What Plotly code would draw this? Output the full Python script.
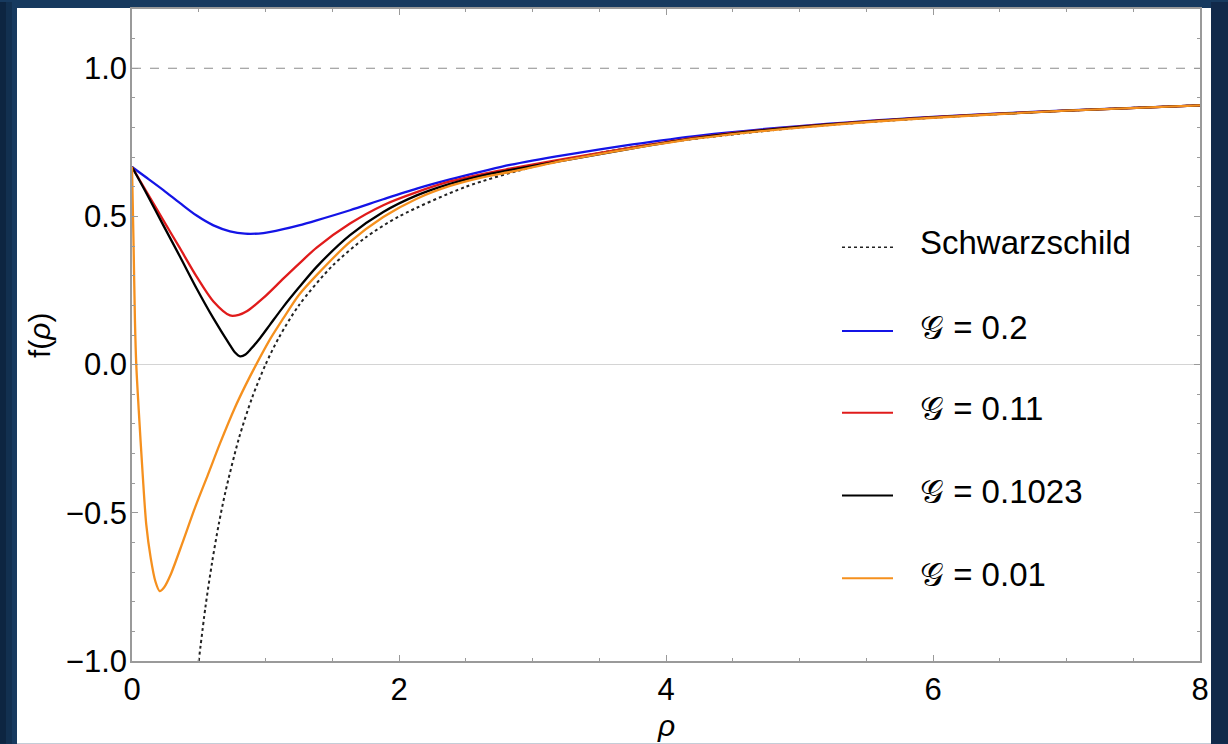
import plotly.graph_objects as go

# ---------------- data ----------------
schw_rho = [0.5, 0.55, 0.6, 0.65, 0.7, 0.8, 0.9, 1.0, 1.1, 1.25, 1.5, 1.75, 2.0, 2.5, 3.0, 3.5, 4.0, 5.0, 6.0, 7.0, 8.0]
schw_f = [-1.0, -0.818, -0.667, -0.538, -0.429, -0.25, -0.111, 0.0, 0.091, 0.2, 0.333, 0.429, 0.5, 0.6, 0.667, 0.714, 0.75, 0.8, 0.833, 0.857, 0.875]

g02_rho = [0, 0.1, 0.235, 0.36, 0.484, 0.61, 0.734, 0.846, 0.984, 1.133, 1.25, 1.383, 1.633, 1.882, 2.133, 2.382, 2.632, 2.83, 3.25, 3.75, 4.25, 5.0, 6.0, 7.0, 8.0]
g02_f = [0.667, 0.634, 0.589, 0.545, 0.503, 0.47, 0.45, 0.442, 0.444, 0.457, 0.47, 0.487, 0.521, 0.558, 0.594, 0.625, 0.653, 0.674, 0.708, 0.743, 0.773, 0.805, 0.836, 0.858, 0.875]

g011_rho = [0, 0.1, 0.235, 0.36, 0.484, 0.61, 0.734, 0.80, 0.86, 0.984, 1.133, 1.25, 1.383, 1.633, 1.882, 2.133, 2.382, 2.632, 2.83, 3.25, 3.75, 4.25, 5.0, 6.0, 7.0, 8.0]
g011_f = [0.667, 0.59, 0.487, 0.392, 0.297, 0.213, 0.166, 0.168, 0.18, 0.225, 0.29, 0.34, 0.395, 0.476, 0.538, 0.582, 0.618, 0.644, 0.661, 0.695, 0.733, 0.768, 0.803, 0.835, 0.857, 0.875]

g01023_rho = [0, 0.1, 0.235, 0.36, 0.484, 0.61, 0.734, 0.77, 0.81, 0.85, 0.895, 0.96, 1.034, 1.133, 1.25, 1.383, 1.633, 1.882, 2.133, 2.382, 2.632, 2.83, 3.25, 3.75, 4.25, 5.0, 6.0, 7.0, 8.0]
g01023_f = [0.667, 0.585, 0.47, 0.364, 0.257, 0.156, 0.066, 0.042, 0.028, 0.034, 0.055, 0.09, 0.135, 0.195, 0.26, 0.33, 0.437, 0.515, 0.571, 0.61, 0.639, 0.656, 0.69, 0.73, 0.766, 0.802, 0.834, 0.857, 0.875]

g001_rho = [0, 0.012, 0.022, 0.032, 0.05, 0.08, 0.107, 0.14, 0.175, 0.207, 0.24, 0.29, 0.382, 0.47, 0.569, 0.66, 0.769, 0.85, 0.93, 1.04, 1.133, 1.25, 1.383, 1.633, 1.882, 2.133, 2.382, 2.632, 2.83, 3.25, 3.75, 4.25, 5.0, 6.0, 7.0, 8.0]
g001_f = [0.667, 0.4, 0.15, 0.0, -0.15, -0.37, -0.54, -0.652, -0.731, -0.764, -0.752, -0.708, -0.596, -0.485, -0.371, -0.265, -0.147, -0.07, 0.0, 0.09, 0.156, 0.235, 0.302, 0.414, 0.498, 0.56, 0.603, 0.633, 0.65, 0.69, 0.73, 0.764, 0.8, 0.833, 0.857, 0.875]

legend_labels = ["Schwarzschild", "𝒢 = 0.2", "𝒢 = 0.11", "𝒢 = 0.1023", "𝒢 = 0.01"]
asymptote = 1.0
x_ticks = [0, 2, 4, 6, 8]
y_ticks = [-1.0, -0.5, 0.0, 0.5, 1.0]

# ---------------- styles ----------------
FONT = "Liberation Sans, Arial, sans-serif"
C_BLUE = "#1414e6"
C_RED = "#e01b1b"
C_BLACK = "#000000"
C_ORANGE = "#f5901e"

fig = go.Figure()
fig.add_trace(go.Scatter(x=schw_rho, y=schw_f, mode="lines", name=legend_labels[0],
                         line=dict(color="#222222", width=2, dash="dot", shape="spline", smoothing=0.8)))
series = [(g02_rho, g02_f, C_BLUE, legend_labels[1]),
          (g011_rho, g011_f, C_RED, legend_labels[2]),
          (g01023_rho, g01023_f, C_BLACK, legend_labels[3]),
          (g001_rho, g001_f, C_ORANGE, legend_labels[4])]
for xs, ys, col, nm in series:
    fig.add_trace(go.Scatter(x=xs, y=ys, mode="lines", name=nm,
                             line=dict(color=col, width=2.3, shape="spline", smoothing=0.8)))

# plot area in pixels: x 132..1200, y 7..661
L, R, T, B = 132, 1200, 7, 661
W, H = R - L, B - T
def px(x):
    return (x - L) / W
def py(y):
    return (B - y) / H

shapes = []
# background bands and white panel
shapes.append(dict(type="rect", xref="paper", yref="paper", x0=px(0), x1=px(6), y0=py(744), y1=py(0),
                   fillcolor="#0d2541", line=dict(width=0), layer="below"))
shapes.append(dict(type="rect", xref="paper", yref="paper", x0=px(6), x1=px(12), y0=py(744), y1=py(0),
                   fillcolor="#123050", line=dict(width=0), layer="below"))
shapes.append(dict(type="rect", xref="paper", yref="paper", x0=px(1211), x1=px(1228), y0=py(744), y1=py(0),
                   fillcolor="#11294a", line=dict(width=0), layer="below"))
shapes.append(dict(type="rect", xref="paper", yref="paper", x0=px(17), x1=px(1211), y0=py(744), y1=py(6),
                   fillcolor="white", line=dict(width=0), layer="below"))
# asymptote line
shapes.append(dict(type="line", xref="paper", yref="y", x0=0, x1=1, y0=asymptote, y1=asymptote,
                   line=dict(color="#8c8c8c", width=1.2, dash="dash"), layer="below"))

annotations = []
leg_line_y = [246, 330, 412, 495, 578]
leg_text_y = [241, 326, 408, 491, 574]
leg_colors = ["#222222", C_BLUE, C_RED, C_BLACK, C_ORANGE]
for i, lab in enumerate(legend_labels):
    shapes.append(dict(type="line", xref="paper", yref="paper", x0=px(842), x1=px(893),
                       y0=py(leg_line_y[i]), y1=py(leg_line_y[i]),
                       line=dict(color=leg_colors[i], width=2 if i else 1.5, dash="dot" if i == 0 else "solid")))
    annotations.append(dict(xref="paper", yref="paper", x=px(918), y=py(leg_text_y[i]),
                            xanchor="left", yanchor="middle", text=lab, showarrow=False,
                            font=dict(family=FONT, size=33, color="black")))

annotations.append(dict(xref="paper", yref="paper", x=px(39), y=py(334), text="f(<i>ρ</i>)",
                        textangle=-90, showarrow=False, xanchor="center", yanchor="middle",
                        font=dict(family=FONT, size=30, color="black")))
annotations.append(dict(xref="paper", yref="paper", x=px(666), y=py(726), text="<i>ρ</i>",
                        showarrow=False, xanchor="center", yanchor="middle",
                        font=dict(family=FONT, size=30, color="black")))

axis_common = dict(showline=True, linecolor="#9a9a9a", linewidth=1.5, mirror="ticks",
                   ticks="inside", ticklen=6, tickcolor="#9a9a9a", tickwidth=1,
                   showgrid=False, tickfont=dict(family=FONT, size=31, color="black"))

fig.update_layout(
    width=1228, height=744,
    margin=dict(l=L, r=1228 - R, t=T, b=744 - B),
    paper_bgcolor="#173a5f", plot_bgcolor="white",
    showlegend=False,
    shapes=shapes, annotations=annotations,
    xaxis=dict(range=[0, 8], tickvals=x_ticks, ticktext=[str(v) for v in x_ticks],
               minor=dict(dtick=0.5, ticklen=3, tickcolor="#9a9a9a", ticks="inside"),
               zeroline=False, **axis_common),
    yaxis=dict(range=[-1.0, 1.2], tickvals=y_ticks, tickformat=".1f", ticklabelstandoff=-3,
               minor=dict(dtick=0.1, ticklen=3, tickcolor="#9a9a9a", ticks="inside"),
               zeroline=True, zerolinecolor="#d4d4d4", zerolinewidth=1.2, **axis_common),
)

fig.write_html(
    "out.html",
    config={"displayModeBar": False},
    post_script="document.body.style.margin='0';document.body.style.padding='0';"
                "document.body.style.overflow='hidden';document.body.style.background='#173a5f';",
)
